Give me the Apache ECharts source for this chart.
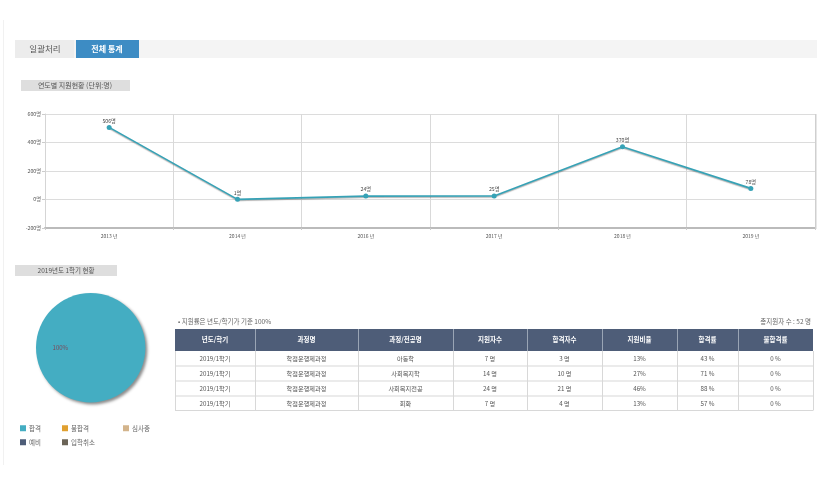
<!DOCTYPE html>
<html><head><meta charset="utf-8">
<script src="https://cdn.jsdelivr.net/npm/echarts@6/dist/echarts.min.js"></script>
<style>html,body{margin:0;background:#fff}#c{width:833px;height:480px}</style></head>
<body><div id="c"></div>
<script>
const years = ['2013 년','2014 년','2016 년','2017 년','2018 년','2019 년'];
const applicants = [506,1,24,25,370,78];
const yTicks = {min:-200,max:600,step:200};
const statusNames = ['합격','불합격','심사중','예비','입학취소'];
const statusValues = [52,0,0,0,0];
const statusColors = ['#44adc2','#e0a030','#d3b48c','#4e5d78','#6b6457'];
const tabs = ['일괄처리','전체 통계'];
const chartTitle = '연도별 지원현황 (단위:명)';
const pieTitle = '2019년도 1학기 현황';
const noteLeft = '• 지원률은 년도/학기가 기준 100%';
const noteRight = '총지원자 수 : 52 명';
const tableHeader = ['년도/학기','과정명','과정/전공명','지원자수','합격자수','지원비율','합격률','불합격률'];
const tableRows = [
 ['2019/1학기','학점운행제과정','아동학','7 명','3 명','13%','43 %','0 %'],
 ['2019/1학기','학점운행제과정','사회복지학','14 명','10 명','27%','71 %','0 %'],
 ['2019/1학기','학점운행제과정','사회복지전공','24 명','21 명','46%','88 %','0 %'],
 ['2019/1학기','학점운행제과정','회화','7 명','4 명','13%','57 %','0 %']
];
const FONT = '"Noto Sans CJK KR","Noto Sans",sans-serif';
const colX = [175,255,358,453,527,602,677,738,813];
const rowY = [351,366,381,396,410.5];
const g = [];
const rect=(x,y,w,h,fill,extra)=>g.push(Object.assign({type:'rect',silent:true,shape:{x,y,width:w,height:h},style:{fill},z:1},extra||{}));
const text=(x,y,t,fill,size,align,weight)=>g.push({type:'text',silent:true,x,y,z:5,style:{text:t,fill,font:`${weight||'normal'} ${size}px ${FONT}`,textAlign:align||'center',textVerticalAlign:'middle'}});
// page frame
rect(3,20,1,445,'#f1f1f1');
// tabs
rect(15,40,802,18,'#f4f4f4');
rect(15,40,59,18,'#ececec');
rect(76,40,63,18,'#3d8cc4');
text(45,49,tabs[0],'#555',8.5);
text(107,49,tabs[1],'#fff',8,'center','bold');
// section titles
rect(21,80,109,11,'#dedede');
text(75,85.5,chartTitle,'#555',7);
rect(15,265,102,11,'#dedede');
text(66,270.5,pieTitle,'#555',6.5);
// plot right edge shadow
rect(815,114,1.5,115,'#cfcfcf');
// notes
text(178,322,noteLeft,'#666',6.5,'left');
text(811,322,noteRight,'#666',6.5,'right');
// table header
rect(colX[0],329,colX[8]-colX[0],22,'#4e5d78');
tableHeader.forEach((t,i)=>{
  text((colX[i]+colX[i+1])/2,340,t,'#fff',6.5,'center','bold');
  if(i>0) rect(colX[i],329,1,22,'#9aa5b5',{z:2});
});
// table body
tableRows.forEach((r,ri)=>{
  r.forEach((t,i)=>text((colX[i]+colX[i+1])/2,(rowY[ri]+rowY[ri+1])/2,t,'#555',6.2));
  rect(colX[0],rowY[ri+1]-0.5,colX[8]-colX[0],1,'#d8d8d8',{z:2});
});
colX.forEach(x=>rect(x,351,1,rowY[4]-351,'#d8d8d8',{z:2}));
const chart = echarts.init(document.getElementById('c'),null,{renderer:'canvas'});
const legendBase={orient:'vertical',padding:0,itemWidth:6,itemHeight:6,itemGap:7.5,selectedMode:false,icon:'rect',
  textStyle:{fontFamily:FONT,fontSize:6.5,color:'#666',padding:[0,0,0,-2]}};
chart.setOption({
  animation:false,
  backgroundColor:'#fff',
  textStyle:{fontFamily:FONT},
  graphic:{elements:g},
  grid:{left:45,top:114,width:770,height:114,containLabel:false},
  xAxis:{type:'category',data:years,boundaryGap:true,
    axisLine:{onZero:false,lineStyle:{color:'#bbb',width:2}},
    axisTick:{show:true,length:2,alignWithLabel:false,lineStyle:{color:'#ccc'}},
    axisLabel:{fontSize:5,color:'#555',margin:6,fontFamily:FONT},
    splitLine:{show:true,lineStyle:{color:'#d9d9d9',width:1}}},
  yAxis:{type:'value',min:yTicks.min,max:yTicks.max,interval:yTicks.step,
    axisLine:{show:true,lineStyle:{color:'#d5d5d5'}},
    axisTick:{show:true,length:3,lineStyle:{color:'#ccc'}},
    axisLabel:{fontSize:5.2,color:'#555',margin:4,formatter:v=>v+'명',fontFamily:FONT},
    splitLine:{show:true,lineStyle:{color:'#dcdcdc',width:1}}},
  legend:[
    Object.assign({},legendBase,{left:20,top:425,data:[statusNames[0],statusNames[3]]}),
    Object.assign({},legendBase,{left:62,top:425,data:[statusNames[1],statusNames[4]]}),
    Object.assign({},legendBase,{left:123,top:425,data:[statusNames[2]]})
  ],
  series:[
    {type:'line',data:applicants,symbol:'circle',symbolSize:5,z:4,
      lineStyle:{color:'#36a2b6',width:1.6,shadowColor:'rgba(0,0,0,0.3)',shadowBlur:1,shadowOffsetY:1},
      itemStyle:{color:'#36a2b6'},
      label:{show:true,position:'top',distance:1.5,fontSize:5.2,color:'#444',formatter:p=>p.value+'명',fontFamily:FONT}},
    {type:'pie',center:[90.7,347.7],radius:[0,54.7],startAngle:0,clockwise:true,
      stillShowZeroSum:false,
      data:statusNames.map((n,i)=>({name:n,value:statusValues[i],itemStyle:{color:statusColors[i]}})),
      itemStyle:{shadowColor:'rgba(0,0,0,0.45)',shadowBlur:3,shadowOffsetX:2,shadowOffsetY:2},
      label:{position:'inside',fontSize:6,color:'#7a4a5a',fontFamily:FONT,
        formatter:p=>p.value>0?Math.round(p.percent)+'%':''},
      labelLine:{show:false},emphasis:{disabled:true}}
  ]
});
</script></body></html>
